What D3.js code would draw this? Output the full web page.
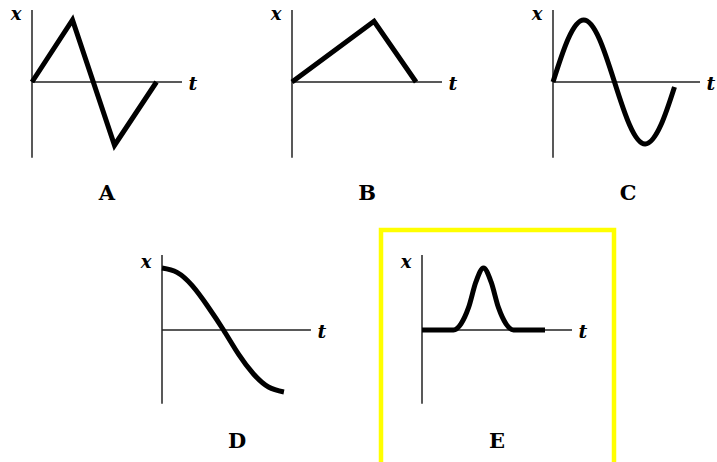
<!DOCTYPE html>
<html>
<head>
<meta charset="utf-8">
<script src="https://cdn.jsdelivr.net/npm/d3@7"></script>
<style>
  body { margin: 0; background: #fff; }
  svg { display: block; }
</style>
</head>
<body>
<div id="chart"></div>
<script>
// values, t in arbitrary units, x in units of amplitude
const panelNames = ["A", "B", "C", "D", "E"];

const tA = [0, 2.7, 5.5, 8.3];
const xA = [0, 1, -1.02, 0];

const tB = [0, 5.47, 8.27];
const xB = [0, 0.98, 0];

const tC = [0, 1, 2.05, 3.1, 4.1, 5.1, 6.15, 7.2, 8.1];
const xC = [0, 0.69, 1, 0.69, 0, -0.69, -1, -0.69, -0.08];

const tD = [0, 1, 2, 3, 4.1, 5.1, 6.1, 7.1, 8.13];
const xD = [1, 0.93, 0.72, 0.4, 0, -0.39, -0.71, -0.92, -1];

const tE = [0, 2.1, 2.6, 3.1, 3.6, 4.1, 4.6, 5.1, 5.6, 6.1, 8.2];
const xE = [0, 0, 0.1, 0.36, 0.78, 1, 0.78, 0.36, 0.1, 0, 0];

const series = [[tA, xA], [tB, xB], [tC, xC], [tD, xD], [tE, xE]];

// layout: where each little plot's origin sits, and how far its axes run
const layout = [
  { ox: 32,  oy: 82,  tMax: 10,  xTop: 1.16, xBot: -1.22, curve: d3.curveLinear },
  { ox: 292, oy: 82,  tMax: 10,  xTop: 1.16, xBot: -1.22, curve: d3.curveLinear },
  { ox: 553, oy: 82,  tMax: 9.8, xTop: 1.16, xBot: -1.22, curve: d3.curveNatural },
  { ox: 162, oy: 330, tMax: 9.93, xTop: 1.21, xBot: -1.19, curve: d3.curveNatural },
  { ox: 422, oy: 330, tMax: 10,  xTop: 1.21, xBot: -1.19, curve: d3.curveMonotoneX }
];

const width = 717, height = 462;
const pxT = 15, pxX = 62;   // pixels per unit

const svg = d3.select("#chart").append("svg")
  .attr("width", width)
  .attr("height", height);

// highlight box round E
svg.append("rect")
  .attr("x", 381).attr("y", 230)
  .attr("width", 233).attr("height", 300)
  .attr("fill", "none")
  .attr("stroke", "#ffff00")
  .attr("stroke-width", 4.5);

panelNames.forEach((name, i) => {
  const L = layout[i];
  const [ts, xs] = series[i];

  const t = d3.scaleLinear().domain([0, 1]).range([L.ox, L.ox + pxT]);
  const x = d3.scaleLinear().domain([0, 1]).range([L.oy, L.oy - pxX]);

  const g = svg.append("g");

  // axes
  g.append("line")
    .attr("x1", t(0)).attr("x2", t(0))
    .attr("y1", x(L.xTop)).attr("y2", x(L.xBot))
    .attr("stroke", "#222").attr("stroke-width", 1.5);
  g.append("line")
    .attr("x1", t(0)).attr("x2", t(L.tMax))
    .attr("y1", x(0)).attr("y2", x(0))
    .attr("stroke", "#222").attr("stroke-width", 1.5);

  // the curve
  const pts = ts.map((v, k) => [v, xs[k]]);
  const line = d3.line()
    .x(d => t(d[0]))
    .y(d => x(d[1]))
    .curve(L.curve);

  g.append("path")
    .attr("d", line(pts))
    .attr("fill", "none")
    .attr("stroke", "#000")
    .attr("stroke-width", 5)
    .attr("stroke-linejoin", "miter");

  // axis names
  g.append("text")
    .attr("x", t(0) - 16).attr("y", x(0) - 62)
    .attr("text-anchor", "middle")
    .style("font-family", "'DejaVu Serif', serif")
    .style("font-style", "italic")
    .style("font-weight", "bold")
    .style("font-size", "18px")
    .text("x");
  g.append("text")
    .attr("x", t(L.tMax) + 11).attr("y", x(0) + 8)
    .attr("text-anchor", "middle")
    .style("font-family", "'DejaVu Serif', serif")
    .style("font-style", "italic")
    .style("font-weight", "bold")
    .style("font-size", "19px")
    .text("t");

  // panel letter
  g.append("text")
    .attr("x", t(0) + 75).attr("y", x(0) + 118)
    .attr("text-anchor", "middle")
    .style("font-family", "'DejaVu Serif', serif")
    .style("font-weight", "bold")
    .style("font-size", "21px")
    .text(name);
});
</script>
</body>
</html>
